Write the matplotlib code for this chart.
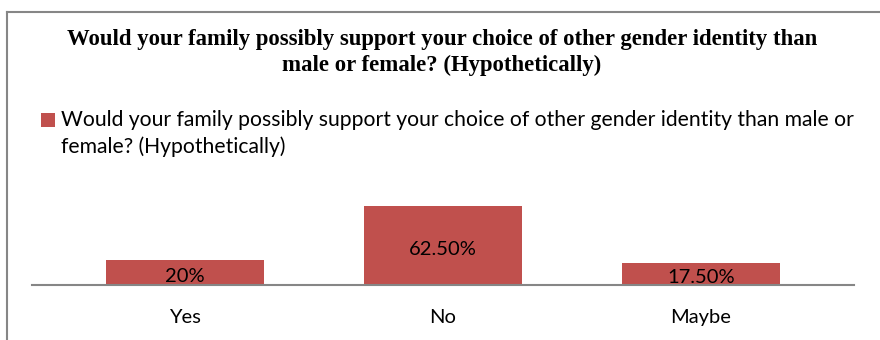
import matplotlib
matplotlib.use("Agg")
import matplotlib.pyplot as plt
from matplotlib.patches import Rectangle
from matplotlib.lines import Line2D

categories = ["Yes", "No", "Maybe"]
values = [20.0, 62.5, 17.5]
value_labels = ["20%", "62.50%", "17.50%"]
title = "Would your family possibly support your choice of other gender identity than\nmale or female? (Hypothetically)"
series_name = "Would your family possibly support your choice of other gender identity than male or\nfemale? (Hypothetically)"

W, H = 880, 340
BAR = "#C0504D"
GRAY = "#868686"
SANS = ["Lato", "DejaVu Sans"]

fig = plt.figure(figsize=(W / 100, H / 100), dpi=100)
fig.patch.set_facecolor("white")

# chart frame (cut at right and bottom)
fig.add_artist(Line2D([7 / W, 7 / W], [1 - 12 / H, 0], transform=fig.transFigure, color=GRAY, lw=1.5))
fig.add_artist(Line2D([7 / W, 1], [1 - 12 / H, 1 - 12 / H], transform=fig.transFigure, color=GRAY, lw=1.5))

# axes: baseline at y=285, x from 32 to 854
ax_left, ax_right = 32 / W, 854 / W
ax_bottom = 1 - 285 / H
ax_h = 100 / H
ax = fig.add_axes([ax_left, ax_bottom, ax_right - ax_left, ax_h])
x = list(range(len(categories)))
bars = ax.bar(x, values, width=0.61, color=BAR, edgecolor="none")
ax.set_xlim(-0.593, 2.593)
ax.set_ylim(0, 100 / 1.264)
for s in ["top", "right", "left"]:
    ax.spines[s].set_visible(False)
ax.spines["bottom"].set_color(GRAY)
ax.spines["bottom"].set_linewidth(1.5)
ax.set_yticks([])
ax.set_xticks(x)
ax.set_xticklabels(categories, fontsize=14.5, family=SANS, color="black")
ax.tick_params(axis="x", length=0, pad=17)
ax.set_facecolor("none")

for b, lab in zip(bars, value_labels):
    ax.text(b.get_x() + b.get_width() / 2, b.get_height() / 2 - 3.2, lab,
            ha="center", va="center", fontsize=14.5, family=SANS, color="black")

# title
fig.text(442 / W, 1 - 29 / H, title, ha="center", va="top", fontsize=16.4,
         fontweight="bold", family=["Liberation Serif", "DejaVu Serif"], linespacing=1.27)

# legend (manual)
fig.add_artist(Rectangle((41 / W, 1 - 127 / H), 14 / W, 14 / H, transform=fig.transFigure,
                         facecolor=BAR, edgecolor="none"))
fig.text(61 / W, 1 - 110 / H, series_name, ha="left", va="top", fontsize=15.2,
         family=SANS, linespacing=1.38)

fig.savefig("out.png", dpi=100, facecolor="white")
